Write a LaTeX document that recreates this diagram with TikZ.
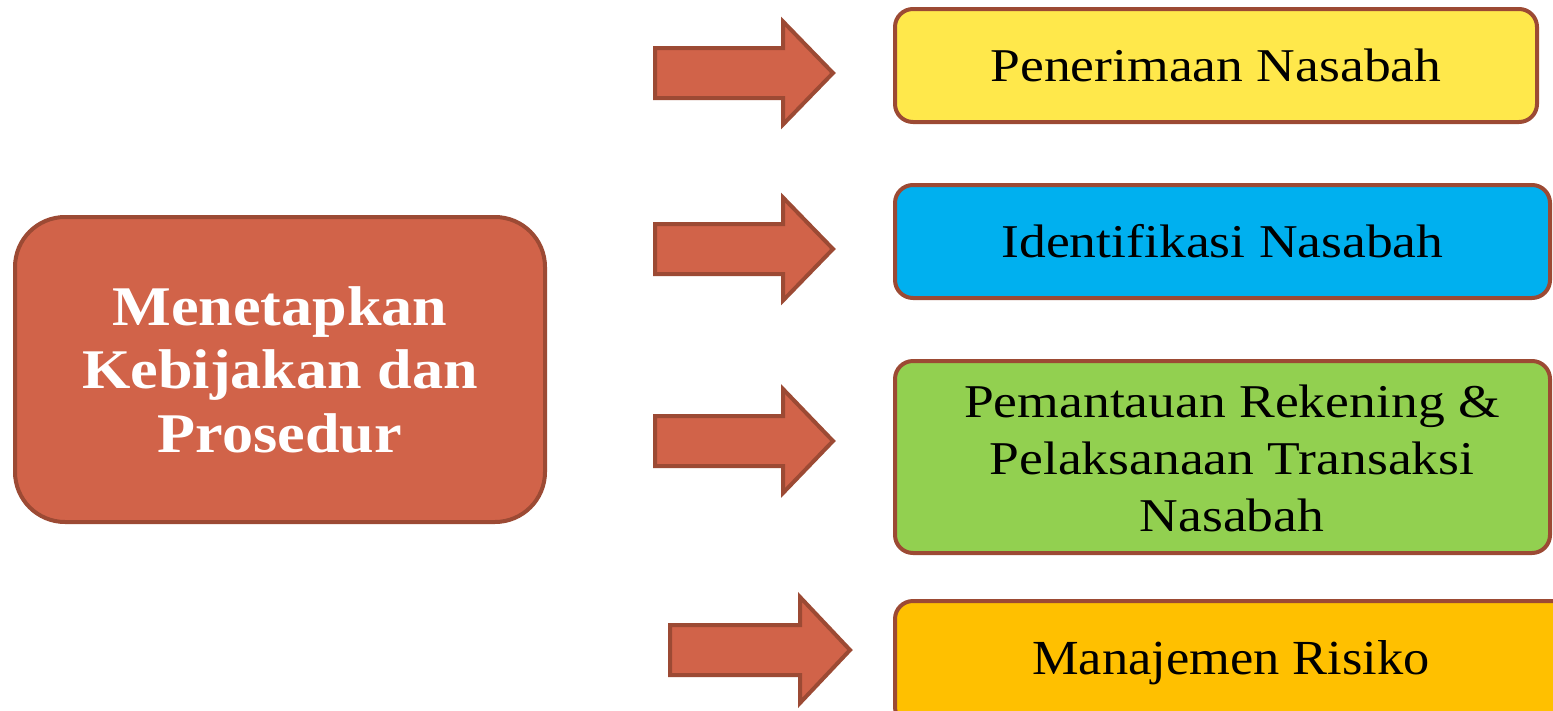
\documentclass[tikz,border=0pt]{standalone}
\usepackage{fontspec}
\setmainfont{Liberation Serif}
\newfontfamily\boxfont[FakeStretch=1.14]{Liberation Serif}
\newfontfamily\riskfont[FakeStretch=1.07]{Liberation Serif}
\newfontfamily\leftfont[FakeStretch=1.11]{Liberation Serif}
\definecolor{bordc}{HTML}{9C4A34}
\definecolor{leftc}{HTML}{D16349}
\definecolor{yelc}{HTML}{FFE84B}
\definecolor{cyac}{HTML}{00B0EF}
\definecolor{grec}{HTML}{92D050}
\definecolor{orac}{HTML}{FFC000}
\tikzset{
  mainbox/.style={draw=bordc, line width=4pt, fill=leftc, rounded corners=50pt,
    minimum width=530pt, minimum height=305pt, inner sep=0pt, align=center,
    text=white, font=\leftfont\bfseries\fontsize{56}{63.5}\selectfont},
  itembox/.style={draw=bordc, line width=4pt, rounded corners=18pt,
    inner sep=0pt, align=center, text=black, font=\boxfont\fontsize{47}{57}\selectfont},
  itemtext/.style={inner sep=0pt, align=center, text=black, font=\boxfont\fontsize{47}{57}\selectfont},
  blockarrow/.style={draw=bordc, line width=4pt, fill=leftc, line join=miter}
}
\begin{document}
\begin{tikzpicture}[x=1pt,y=-1pt]
\useasboundingbox (0,0) rectangle (1553,710);
\clip (0,0) rectangle (1553,710);
\fill[white] (0,0) rectangle (1553,710);
% left box
\node[mainbox] (main) at (280,369.5) {Menetapkan\\Kebijakan dan\\Prosedur};
% right boxes
\node[itembox, fill=yelc, minimum width=642pt, minimum height=113pt] (b1) at (1216,65.5) {Penerimaan Nasabah};
\node[itembox, fill=cyac, minimum width=655pt, minimum height=113pt] (b2) at (1222.5,241.5) {Identifikasi Nasabah};
\node[itembox, fill=grec, minimum width=655pt, minimum height=192pt] (b3) at (1222.5,457) {};
\node[itemtext] (b3t) at (1232,458) {Pemantauan Rekening \&\\Pelaksanaan Transaksi\\Nasabah};
\node[itembox, fill=orac, minimum width=700pt, minimum height=124pt, font=\riskfont\fontsize{49}{57}\selectfont] (b4) at (1245,663) {\hspace*{-28pt}Manajemen Risiko};
% block arrows
\foreach \cy/\x/\hx/\tx/\hw/\nm in {73/655/783/833/51.5/a1, 249/655/783/833/51.5/a2, 441/655/783/833/52/a3, 650/670/800/850/53/a4}{
  \coordinate (\nm tail) at (\x,\cy);
  \coordinate (\nm tip) at (\tx,\cy);
  \draw[blockarrow] (\x,\cy-25) -- (\hx,\cy-25) -- (\hx,\cy-\hw) -- (\nm tip)
     -- (\hx,\cy+\hw) -- (\hx,\cy+25) -- (\x,\cy+25) -- cycle;
}
\end{tikzpicture}
\end{document}
